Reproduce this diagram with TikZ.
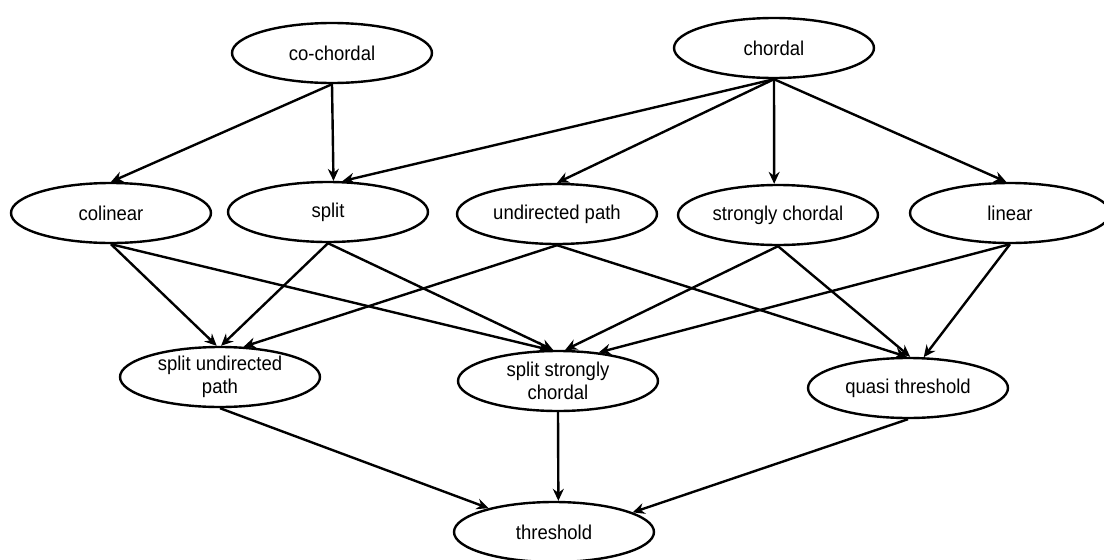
\documentclass[tikz,border=0pt]{standalone}
\usepackage{fontspec}
\setmainfont{Liberation Sans}[FakeStretch=0.925]
\usetikzlibrary{shapes.geometric,arrows.meta}
\begin{document}
\begin{tikzpicture}[x=1pt,y=-1pt,
  gnode/.style={ellipse,draw,line width=2.4pt,minimum width=200pt,minimum height=60pt,
    inner sep=0pt,align=center,font=\fontsize{20}{23.5}\selectfont},
  conn/.style={line width=2.4pt,-{Stealth[length=12pt,width=11pt,inset=4pt]}}]
\useasboundingbox (0,0) rectangle (1104,560);
% nodes
\node[gnode] (cc)  at (332,53)  {co-chordal};
\node[gnode] (ch)  at (774,48)  {chordal};
\node[gnode] (col) at (111,213) {colinear};
\node[gnode] (spl) at (328,212) {split};
\node[gnode] (up)  at (557,214) {undirected path};
\node[gnode] (sc)  at (778,215) {strongly chordal};
\node[gnode] (lin) at (1010,213) {linear};
\node[gnode] (sup) at (220,377) {split undirected\\path};
\node[gnode] (ssc) at (558,381) {split strongly\\chordal};
\node[gnode] (qt)  at (908,388) {quasi threshold};
\node[gnode] (thr) at (554,532) {threshold};
% edges
\draw[conn] (cc.south) -- (col.north);
\draw[conn] (cc.south) -- (spl.80);
\draw[conn] (ch.south) -- (spl.65);
\draw[conn] (ch.south) -- (up.north);
\draw[conn] (ch.south) -- (sc.97);
\draw[conn] (ch.south) -- (lin.97);
\draw[conn] (col.south) -- (sup.96);
\draw[conn] (col.south) -- (ssc.105);
\draw[conn] (spl.south) -- (sup.88);
\draw[conn] (spl.south) -- (ssc.99);
\draw[conn] (up.south) -- (sup.52);
\draw[conn] (up.south) -- (qt.92);
\draw[conn] (sc.south) -- (ssc.77);
\draw[conn] (sc.south) -- (qt.86);
\draw[conn] (lin.south) -- (ssc.35);
\draw[conn] (lin.south) -- (qt.63);
\draw[conn] (sup.south) -- (thr.160);
\draw[conn] (ssc.south) -- (thr.82);
\draw[conn] (qt.south) -- (thr.14);
\end{tikzpicture}
\end{document}
